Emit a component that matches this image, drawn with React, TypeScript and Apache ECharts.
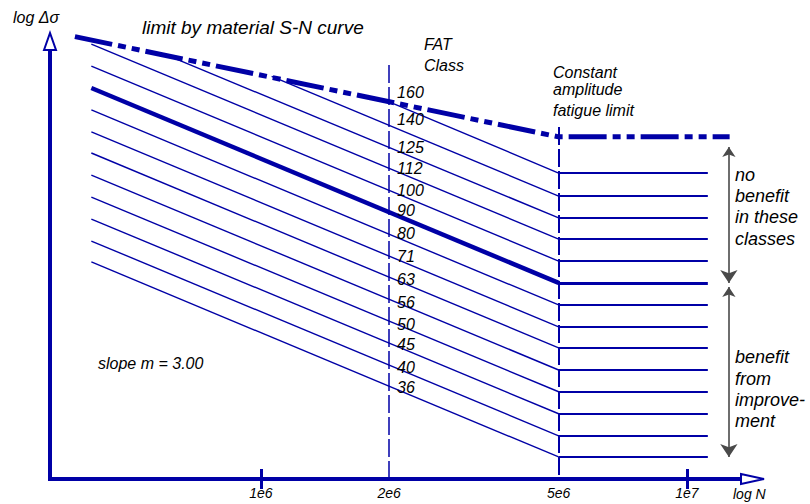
import React, { useEffect, useRef } from 'react';
import * as echarts from 'echarts';

// ---------- data ----------
const fatClasses = [160, 140, 125, 112, 100, 90, 80, 71, 63, 56, 50, 45, 40, 36];
// left end of each FAT line (cycles, stress range)
const lineStartN = [1.95e6, 1.06e6, 5.9e5, 4.0e5, 4.0e5, 4.0e5, 4.0e5, 4.0e5, 4.0e5, 4.0e5, 4.0e5, 4.0e5, 4.0e5, 4.0e5];
const lineStartStress = [160, 180.7, 203.3, 213.6, 190.6, 170.1, 151.8, 135.4, 121.4, 108.3, 96.6, 86.2, 76.9, 69.0];
// stress at the knee (constant amplitude fatigue limit)
const kneeStress = [109.4, 97.1, 86.7, 77.7, 69.3, 61.9, 55.2, 49.3, 44.2, 39.4, 35.2, 31.4, 28.0, 25.1];
const kneeN = 5e6;
const plateauEndN = 1.12e7;
const highlightedClass = 90;

// limit by material S-N curve
const limitN = [3.66e5, 5e6, 1.26e7];
const limitStress = [222, 132, 132];

// x axis
const tickN = [1e6, 2e6, 5e6, 1e7];
const tickLabels = ['1e6', '2e6', '5e6', '1e7'];
const majorTickN = [1e6, 1e7];

// vertical reference lines
const refLineN = [2e6, 5e6];
const refLineTopStress = [191.6, 138.9];
const axisBottomStress = 22.39;

// double arrows at the right
const arrowN = 1.255e7;
const noBenefitArrowStress = [125.2, 61.9];
const benefitArrowStress = [60.6, 25.1];

// ---------- layout ----------
const BLUE = '#0000a6';
const TXT = '#000000';
const FONT = '"Liberation Sans", Arial, Helvetica, sans-serif';
const PX_X = 426;
const PX_Y = 444;
const X_MIN = 5.505;
const X_MAX = 7.15;
const Y_MIN = 1.35;
const Y_MAX = 2.335;
const GRID_LEFT = 50;
const GRID_BOTTOM = 25;

const lg = (v: number) => Math.log10(v);

function buildOption() {
  const slopeSegs = fatClasses.map((c, i) => ({
    coords: [
      [lg(lineStartN[i]), lg(lineStartStress[i])],
      [lg(kneeN), lg(kneeStress[i])],
    ],
    lineStyle: { width: c === highlightedClass ? 4.5 : 1.4 },
  }));
  const plateauSegs = fatClasses.map((c, i) => ({
    coords: [
      [lg(kneeN), lg(kneeStress[i])],
      [lg(plateauEndN), lg(kneeStress[i])],
    ],
    lineStyle: { width: c === highlightedClass ? 3.2 : 2 },
  }));
  const refSegs = refLineN.map((n, i) => ({
    coords: [
      [lg(n), lg(refLineTopStress[i])],
      [lg(n), lg(axisBottomStress)],
    ],
    lineStyle: { width: i === 0 ? 1.5 : 2 },
  }));
  const arrowSegs = [noBenefitArrowStress, benefitArrowStress].map((s) => ({
    coords: [
      [lg(arrowN), lg(s[0])],
      [lg(arrowN), lg(s[1])],
    ],
  }));

  const labelLift: Record<number, number> = { 160: -7, 140: -6 };

  const italic = (size: number) => `italic ${size}px ${FONT}`;
  const txt = (text: string, x: number, y: number, size: number) => ({
    type: 'text',
    x,
    y,
    z: 50,
    style: { text, fill: TXT, font: italic(size), verticalAlign: 'middle', align: 'left' },
  });

  const fmtTick = (v: number) => {
    for (let i = 0; i < tickN.length; i++) {
      if (Math.abs(lg(tickN[i]) - v) < 1e-6) return tickLabels[i];
    }
    return '';
  };

  return {
    animation: false,
    backgroundColor: '#ffffff',
    grid: {
      left: GRID_LEFT,
      bottom: GRID_BOTTOM,
      width: (X_MAX - X_MIN) * PX_X,
      height: (Y_MAX - Y_MIN) * PX_Y,
      outerBoundsMode: 'none',
    },
    xAxis: [
      {
        type: 'value',
        position: 'bottom',
        min: X_MIN,
        max: X_MAX,
        axisLine: { show: true, onZero: false, lineStyle: { color: BLUE, width: 4, cap: 'square' } },
        axisTick: {
          show: true,
          customValues: majorTickN.map(lg),
          length: 10,
          lineStyle: { color: BLUE, width: 3 },
        },
        axisLabel: {
          show: true,
          customValues: tickN.map(lg),
          formatter: fmtTick,
          margin: 7,
          color: TXT,
          fontStyle: 'italic',
          fontSize: 14,
          fontFamily: FONT,
        },
        splitLine: { show: false },
      },
      {
        type: 'value',
        position: 'bottom',
        min: X_MIN,
        max: X_MAX,
        axisLine: { show: false },
        axisTick: {
          show: true,
          inside: true,
          customValues: majorTickN.map(lg),
          length: 10,
          lineStyle: { color: BLUE, width: 3 },
        },
        axisLabel: { show: false },
        splitLine: { show: false },
      },
    ],
    yAxis: {
      type: 'value',
      min: Y_MIN,
      max: Y_MAX,
      axisLine: { show: true, onZero: false, lineStyle: { color: BLUE, width: 4, cap: 'square' } },
      axisTick: { show: false },
      axisLabel: { show: false },
      splitLine: { show: false },
    },
    series: [
      {
        type: 'lines',
        coordinateSystem: 'cartesian2d',
        silent: true,
        z: 2,
        lineStyle: { color: BLUE, opacity: 1, type: [18, 4] },
        data: refSegs,
      },
      {
        type: 'lines',
        coordinateSystem: 'cartesian2d',
        silent: true,
        clip: false,
        z: 3,
        lineStyle: { color: BLUE, opacity: 1 },
        data: slopeSegs,
      },
      {
        type: 'lines',
        coordinateSystem: 'cartesian2d',
        silent: true,
        clip: false,
        z: 3,
        lineStyle: { color: BLUE, opacity: 1 },
        data: plateauSegs,
      },
      {
        type: 'line',
        silent: true,
        clip: false,
        z: 4,
        symbol: 'none',
        lineStyle: { color: BLUE, width: 5, type: [38, 6, 8, 6, 8, 6] },
        data: limitN.map((n, i) => [lg(n), lg(limitStress[i])]),
      },
      {
        type: 'lines',
        coordinateSystem: 'cartesian2d',
        silent: true,
        clip: false,
        z: 4,
        symbol: ['arrow', 'arrow'],
        symbolSize: [10, 13],
        lineStyle: { color: '#4a4a4a', opacity: 1, width: 1.6 },
        data: arrowSegs,
      },
      {
        type: 'scatter',
        silent: true,
        z: 6,
        symbolSize: 2,
        itemStyle: { color: 'rgba(0,0,0,0)' },
        label: {
          show: true,
          position: 'right',
          distance: 7,
          color: TXT,
          opacity: 1,
          fontStyle: 'italic',
          fontSize: 16,
          fontFamily: FONT,
          formatter: (p: any) => String(p.value[2]),
        },
        data: fatClasses.map((c) => ({
          value: [lg(2e6), lg(c), c],
          label: { offset: [0, labelLift[c] || 0] },
        })),
      },
    ],
    graphic: [
      // hollow axis arrow heads
      {
        type: 'polygon',
        z: 100,
        shape: { points: [[44, 50], [50, 33], [56, 50]] },
        style: { fill: '#ffffff', stroke: BLUE, lineWidth: 2 },
      },
      {
        type: 'polygon',
        z: 100,
        shape: { points: [[741, 474], [764, 479], [741, 484]] },
        style: { fill: '#ffffff', stroke: BLUE, lineWidth: 2 },
      },
      txt('log Δσ', 13, 17, 16),
      txt('limit by material S-N curve', 142, 27, 19),
      txt('FAT', 424, 44, 16),
      txt('Class', 424, 65, 16),
      txt('Constant', 553, 72, 16),
      txt('amplitude', 553, 89, 16),
      txt('fatigue limit', 553, 110, 16),
      txt('no', 735, 175, 18),
      txt('benefit', 735, 196, 18),
      txt('in these', 735, 217, 18),
      txt('classes', 735, 239, 18),
      txt('benefit', 735, 357, 18),
      txt('from', 735, 379, 18),
      txt('improve-', 735, 400, 18),
      txt('ment', 735, 421, 18),
      txt('slope m = 3.00', 98, 363, 16),
      txt('log N', 733, 494, 14),
    ],
  };
}

export default function App() {
  const ref = useRef<HTMLDivElement>(null);
  useEffect(() => {
    if (!ref.current) return;
    const chart = echarts.init(ref.current, null, { renderer: 'svg' });
    chart.setOption(buildOption() as any);
    return () => chart.dispose();
  }, []);
  return (
    <div
      ref={ref}
      style={{ position: 'absolute', left: 0, top: 0, width: 810, height: 504, background: '#fff' }}
    />
  );
}
